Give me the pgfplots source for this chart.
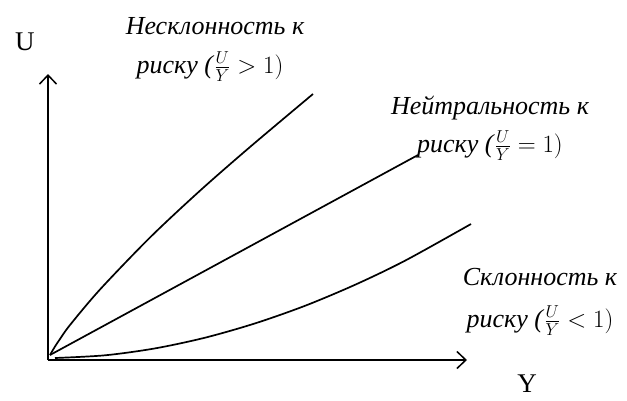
\documentclass[border=0pt]{standalone}
\usepackage{pgfplots}
\pgfplotsset{compat=1.18}
\usetikzlibrary{arrows.meta}
\usepackage{fontspec}
\setmainfont{Liberation Serif}
\begin{document}
\begin{tikzpicture}
\path[use as bounding box] (-48pt,-40pt) rectangle (579pt,360pt);
\begin{axis}[
  x=1pt, y=1pt, scale only axis,
  xmin=0, xmax=419, ymin=0, ymax=286,
  axis lines=left,
  axis line style={line width=1.7pt, -{Straight Barb[length=9pt,width=17pt,line width=1.5pt]}},
  ticks=none,
  clip=false,
]
\addplot[line width=1.7pt, smooth, black] coordinates {(2,5)(7,13.5)(12,21)(22,35)(52,70.5)(102,122.5)(152,169.3)(202,213)(265,266)};
\addplot[line width=1.7pt, black] coordinates {(2,5)(370,205)};
\addplot[line width=1.7pt, smooth, black] coordinates {(7,2)(57,4.7)(107,11.6)(157,22.3)(207,36.6)(257,54.2)(307,75.2)(357,99.3)(423,136)};
\node[anchor=base, font=\fontsize{26}{30}\selectfont\itshape] at (axis cs:167,326) {Несклонность к};
\node[anchor=base, font=\fontsize{26}{30}\selectfont] at (axis cs:162,287) {\textit{риску (}$\frac{U}{Y}>1)$};
\node[anchor=base, font=\fontsize{26}{30}\selectfont\itshape] at (axis cs:442,246) {Нейтральность к};
\node[anchor=base, font=\fontsize{26}{30}\selectfont] at (axis cs:442,208) {\textit{риску (}$\frac{U}{Y}=1)$};
\node[anchor=base, font=\fontsize{26}{30}\selectfont\itshape] at (axis cs:492,75) {Склонность к};
\node[anchor=base, font=\fontsize{26}{30}\selectfont] at (axis cs:492,33) {\textit{риску (}$\frac{U}{Y}<1)$};
\node[font=\fontsize{27}{31}\selectfont] at (axis cs:-23,318) {U};
\node[font=\fontsize{27}{31}\selectfont] at (axis cs:479,-24) {Y};
\end{axis}
\end{tikzpicture}
\end{document}
